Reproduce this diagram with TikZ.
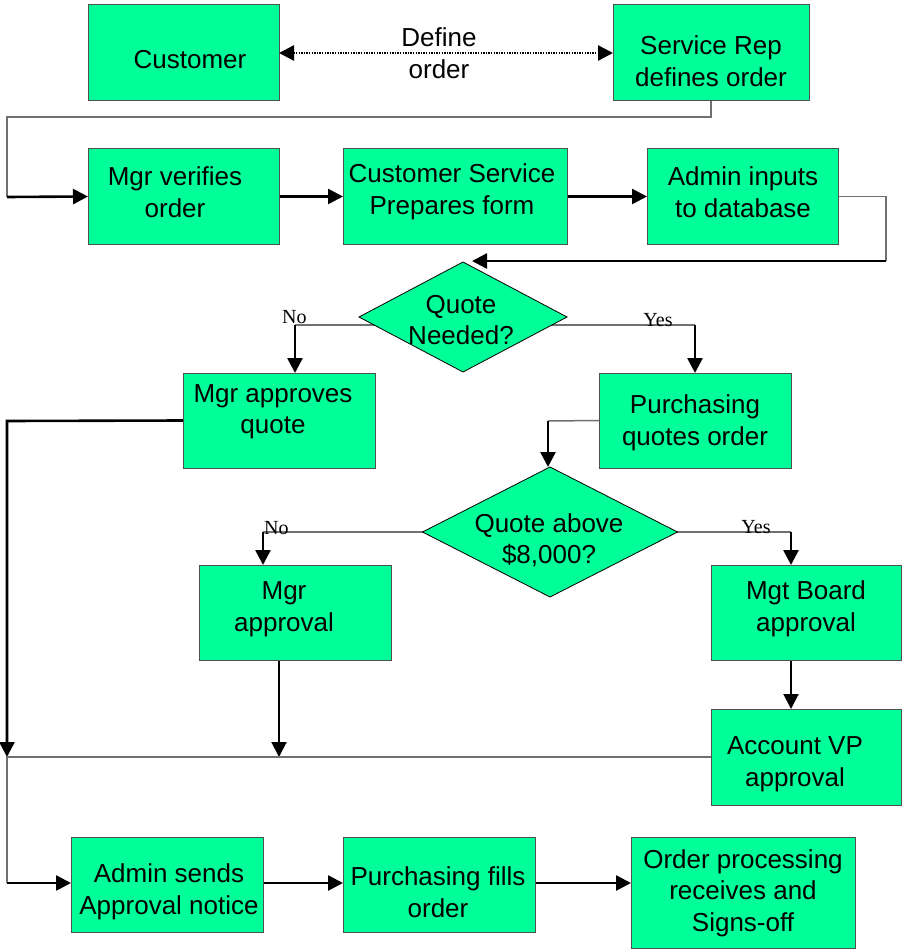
\documentclass[tikz,border=0pt]{standalone}
\usepackage{fontspec}
\setmainfont{Liberation Sans}
\newfontfamily\serifnote{Liberation Serif}
\usetikzlibrary{arrows.meta,shapes.geometric,backgrounds}
\definecolor{boxfill}{RGB}{0,255,153}
\definecolor{boxline}{RGB}{80,80,80}
\definecolor{wire}{RGB}{112,112,112}
\tikzset{
  stepbox/.style={draw=boxline, fill=boxfill, line width=1pt, inner sep=0pt, outer sep=0pt},
  decide/.style={diamond, draw=black, fill=boxfill, line width=0.8pt, inner sep=0pt, outer sep=0pt},
  txt/.style={align=center, inner sep=0pt, font=\fontsize{26}{31.5}\selectfont},
  note/.style={inner sep=0pt, font=\serifnote\fontsize{20}{22}\selectfont},
  gline/.style={draw=wire, line width=1.5pt},
  barrow/.style={draw=black, line width=2.6pt, -{Triangle[length=15pt,width=15pt]}},
}
\newcommand{\boxat}[5]{% name, x1, y1, x2, y2
  \node[stepbox, minimum width={#4-#2}, minimum height={#5-#3}] (#1) at ({(#2+#4)/2},{(#3+#5)/2}) {};}
\begin{document}
\begin{tikzpicture}[x=1pt, y=-1pt]
\useasboundingbox (0,0) rectangle (903,952);

% process boxes
\boxat{cust}{88}{5}{279}{101}
\boxat{srep}{613}{5}{809}{101}
\boxat{mver}{88}{149}{279}{244}
\boxat{cserv}{343}{149}{567}{244}
\boxat{admin}{647}{149}{838}{244}
\boxat{mapq}{183}{373}{375}{468}
\boxat{purq}{599}{373}{791}{468}
\boxat{mapr}{199}{565}{391}{660}
\boxat{mgtb}{711}{565}{901}{660}
\boxat{avp}{711}{709}{901}{805}
\boxat{asend}{71}{837}{263}{932}
\boxat{pfill}{343}{837}{535}{932}
\boxat{oproc}{631}{837}{855}{948}

% decisions
\node[decide, minimum width=208pt, minimum height=110pt] (q1) at (463,317) {};
\node[decide, minimum width=255pt, minimum height=130pt] (q2) at (550,532) {};

% box texts
\node[txt] (cust-t) at (190,60) {Customer};
\node[txt] (srep-t) at (711,61) {Service Rep\\defines order};
\node[txt] (mver-t) at (175,192) {Mgr verifies\\order};
\node[txt] (cserv-t) at (452,192) {Customer Service\\Prepares form};
\node[txt] (admin-t) at (743,192) {Admin inputs\\to database};
\node[txt] (q1-t) at (461,320) {Quote\\Needed?};
\node[txt] (mapq-t) at (273,412) {Mgr approves\\quote};
\node[txt] (purq-t) at (695,423) {Purchasing\\quotes order};
\node[txt] (q2-t) at (549,540) {Quote above\\\$8,000?};
\node[txt] (mapr-t) at (284,609) {Mgr\\approval};
\node[txt] (mgtb-t) at (806,609) {Mgt Board\\approval};
\node[txt] (avp-t) at (795,764) {Account VP\\approval};
\node[txt] (asend-t) at (169,892) {Admin sends\\Approval notice};
\node[txt] (pfill-t) at (438,892) {Purchasing fills\\order};
\node[txt] (oproc-t) at (743,893) {Order processing\\receives and\\Signs-off};
\node[txt] (dlab) at (439,37) {Define};
\node[txt] (olab) at (439,69) {order};

% branch labels
\node[note, anchor=south west] (no1) at (282,324) {No};
\node[note, anchor=south] (yes1) at (658,327) {Yes};
\node[note, anchor=south west] (no2) at (264,535) {No};
\node[note, anchor=south] (yes2) at (756,534) {Yes};

% junction points of the routed connectors
\coordinate (j1) at (7,197);
\coordinate (j2) at (886,261);
\coordinate (t2) at (472,261);
\coordinate (j3) at (295,325);
\coordinate (j4) at (695,325);
\coordinate (j5) at (7,421);
\coordinate (j6) at (548,421);
\coordinate (j7) at (263,532);
\coordinate (j8) at (791,532);
\coordinate (b1) at (7,757);
\coordinate (b2) at (279,757);
\coordinate (j9) at (7,883);

% customer <-> service rep
\draw[line width=2.4pt, dash pattern=on 1.4pt off 1.2pt,
      {Triangle[length=15pt,width=15pt]}-{Triangle[length=15pt,width=15pt]}]
  (cust.east) -- (srep.west);

\begin{pgfonlayer}{background}
  % service rep down to manager
  \draw[gline] (srep.south) -- ++(0,16) -| (j1);
  \draw[barrow] (j1) -- (mver.west);
  \draw[barrow] (mver.east) -- (cserv.west);
  \draw[barrow] (cserv.east) -- (admin.west);
  % database back to first decision
  \draw[gline] (admin.east) -| (j2);
  \draw[barrow] (j2) -- (t2);
  % quote needed?
  \draw[gline] (q1.center |- j3) -- (j3);
  \draw[barrow] (j3) -- (mapq.north -| j3);
  \draw[gline] (q1.center |- j4) -- (j4);
  \draw[barrow] (j4) -- (purq.north);
  % manager approves quote down the left side
  \draw[barrow] (mapq.west) -- (j5) -- (b1);
  % purchasing quote to second decision
  \draw[gline] (purq.west) -- (j6);
  \draw[barrow] (j6) -- (q2.north -| j6);
  % quote above $8,000?
  \draw[gline] (q2.center) -- (j7);
  \draw[barrow] (j7) -- (mapr.north -| j7);
  \draw[gline] (q2.center) -- (j8);
  \draw[barrow] (j8) -- (mgtb.north -| j8);
  \draw[barrow, line width=2pt] (mapr.south -| b2) -- (b2);
  \draw[barrow, line width=2pt] (mgtb.south -| j8) -- (avp.north -| j8);
  % collecting line to the final row
  \draw[gline] (avp.west) -- (b1) -- (j9);
  \draw[barrow] (j9) -- (asend.west |- j9);
  \draw[barrow] (asend.east |- j9) -- (pfill.west |- j9);
  \draw[barrow] (pfill.east |- j9) -- (oproc.west |- j9);
\end{pgfonlayer}
\end{tikzpicture}
\end{document}
